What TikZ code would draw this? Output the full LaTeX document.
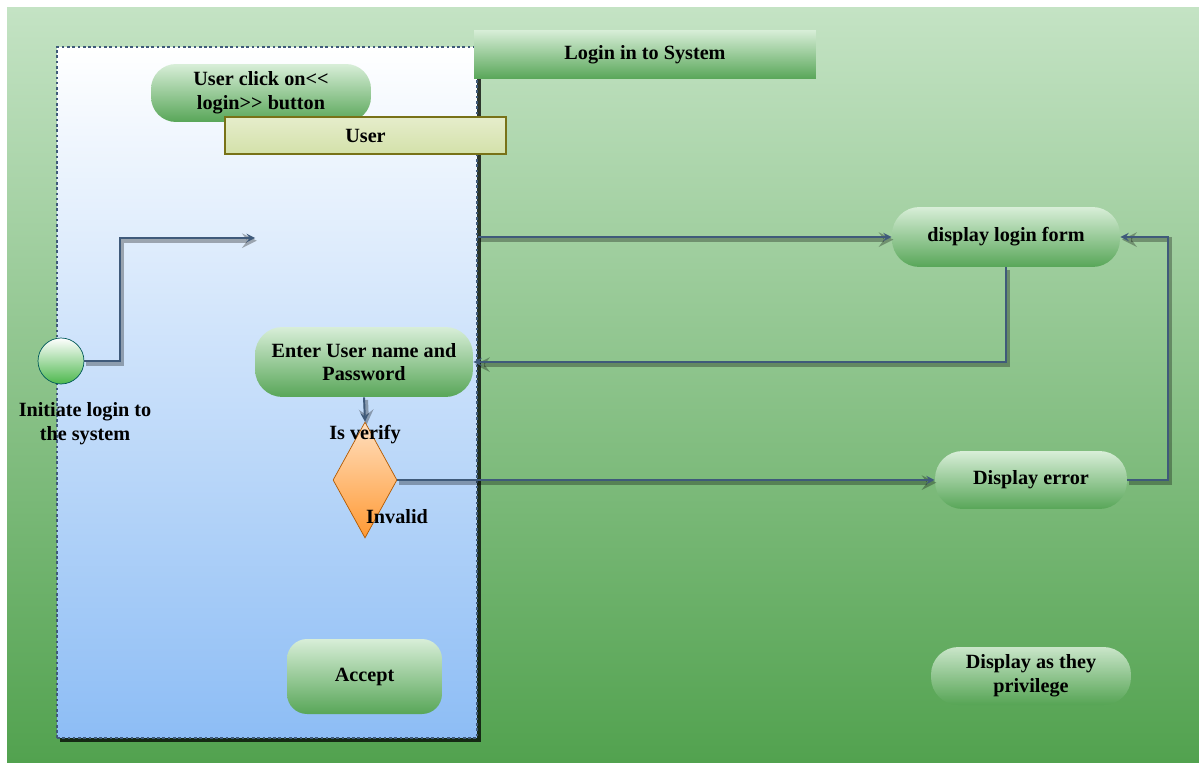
\documentclass[tikz,border=0pt]{standalone}
\usepackage{fontspec}
\setmainfont{Liberation Serif}
\usetikzlibrary{shapes.geometric}

\definecolor{linecol}{HTML}{3F5A7A}
\definecolor{bgtop}{HTML}{C4E3C4}
\definecolor{bgbot}{HTML}{52A24F}
\definecolor{boxtop}{HTML}{D8EED8}
\definecolor{boxbot}{HTML}{58A658}
\definecolor{lanebot}{HTML}{8DBDF5}
\definecolor{headtop}{HTML}{E6EDCB}
\definecolor{headbot}{HTML}{D3E1AA}

\tikzset{
  txt/.style={font=\bfseries\fontsize{11.5}{13.5}\selectfont,align=center},
  act/.style={txt,shape=rectangle,rounded corners=0.55cm,top color=boxtop,bottom color=boxbot,inner sep=0pt},
  flow/.style={draw=linecol,line width=1.1pt,>=stealth,
    preaction={draw=black,opacity=.3,line width=2.6pt,transform canvas={shift={(1pt,-1.5pt)}}}}
}

\begin{document}
\begin{tikzpicture}[x=0.02cm,y=-0.02cm]
	%frame and background
	\useasboundingbox (0,0) rectangle (1199,770);
	\fill[white] (0,0) rectangle (1199,770);
	\shade[top color=bgtop,bottom color=bgbot] (7,8) rectangle (1199,762);

	%swim lane
	\fill[black,opacity=.75] (60,50) rectangle (481,742); %lane shadow
	\node[draw=linecol,line width=1pt,dash pattern=on 1.5pt off 1.5pt,
	  top color=white,bottom color=lanebot,minimum width=8.4cm,minimum height=13.82cm,
	  inner sep=0pt] (lane) at (267,392.5) {};

	%headers
	\node[txt,top color=boxtop,bottom color=boxbot,minimum width=6.84cm,minimum height=0.98cm,
	  inner sep=0pt] (title) at (645,54.5) {Login in to System};
	\node[act,rounded corners=0.5cm,minimum width=4.4cm,minimum height=1.16cm] (click) at (261,93)
	  {User click on<{}<\\login>{}> button};
	\node[txt,draw=olive!80!black,line width=1pt,top color=headtop,
	  bottom color=headbot,minimum width=5.62cm,minimum height=0.74cm,
	  inner sep=0pt] (user) at (365.5,135.5) {User};

	%start node
	\node[circle,draw=teal!70!black,top color=white,bottom color=green!60!black!70,
	  minimum size=0.92cm,inner sep=0pt] (start) at (61,361) {};
	\node[txt] (startlbl) at (85,424) {Initiate login to\\the system};
	\coordinate (tip) at (255,238);

	%activities
	\node[act,minimum width=4.56cm,minimum height=1.2cm] (dform) at (1006,237) {display login form};
	\node[act,minimum width=4.36cm,minimum height=1.4cm] (enter) at (364,362) {Enter User name and\\Password};
	\node[diamond,draw=orange!70!black,top color=orange!25,bottom color=orange!80,
	  minimum width=1.28cm,minimum height=2.32cm,inner sep=0pt] (verify) at (365,480) {};
	\node[txt] (verifylbl) at (365,435) {Is verify};
	\node[txt] (invalid) at (397,517) {Invalid};
	\node[act,minimum width=3.84cm,minimum height=1.16cm] (derror) at (1031,480) {Display error};
	\node[act,rounded corners=0.4cm,minimum width=3.1cm,minimum height=1.5cm] (accept) at (364.5,676.5) {Accept};
	\node[act,top color=boxtop!90!white,bottom color=boxbot!60!bgbot,opacity=.85,text opacity=1,
	  minimum width=4cm,minimum height=1.16cm] (priv) at (1031,676) {Display as they\\privilege};

	%connectors
	\draw[flow,->] (start.east) -- ++(36,0) |- (tip);
	\draw[flow,->] (lane.east |- dform.west) -- (dform.west);
	\draw[flow,->] (dform.south) |- (enter.east);
	\draw[flow,->] (enter.south) -- (verify.north);
	\draw[flow,->] (verify.east) -- (derror.west);
	\draw[flow,->] (derror.east) -- ++(41,0) |- (dform.east);
\end{tikzpicture}
\end{document}
